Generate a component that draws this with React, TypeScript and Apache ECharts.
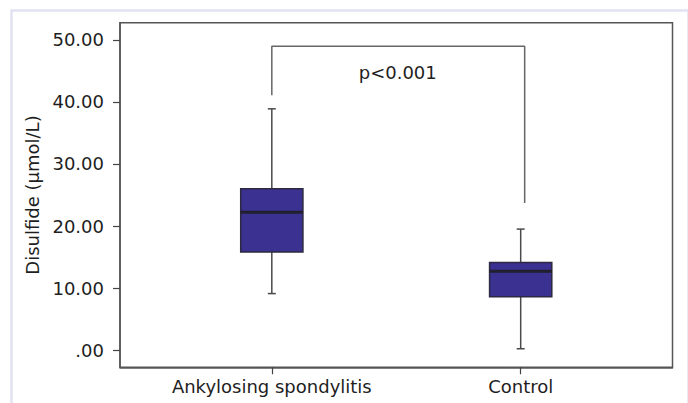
import React, { useEffect, useRef } from "react";
import * as echarts from "echarts";

// Groups and their x positions on the value axis
const categories = ["Ankylosing spondylitis", "Control"];
const groupPositions = [1, 2];
// Box statistics: [min, Q1, median, Q3, max] (µmol/L)
const boxStats = [
  [9.1, 15.8, 22.2, 26.0, 38.9],
  [0.2, 8.6, 12.7, 14.1, 19.5],
];
// Y tick values
const yTicks = [0, 10, 20, 30, 40, 50];
// Significance bracket (x, y data points)
const bracketPoints = [
  [1, 41.1],
  [1, 49.0],
  [2.016, 49.0],
  [2.016, 23.7],
];
const pLabel = "p<0.001";
const pLabelPos = [1.506, 44.8];

const FONT = "DejaVu Sans";

export default function App() {
  const ref = useRef<HTMLDivElement>(null);
  useEffect(() => {
    if (!ref.current) return;
    const chart = echarts.init(ref.current, null, { renderer: "svg" });
    const boxData = boxStats.map((s, i) => [groupPositions[i], ...s]);
    chart.setOption({
      animation: false,
      backgroundColor: "#ffffff",
      graphic: [
        {
          type: "rect",
          left: 9,
          top: 8,
          shape: { width: 677, height: 420 },
          style: { fill: "none", stroke: "#e2e2f2", lineWidth: 2.5 },
          silent: true,
          z: -1,
        },
      ],
      grid: {
        left: 120,
        right: 15.5,
        top: 22.7,
        bottom: 35.7,
        show: true,
        borderColor: "#555555",
        borderWidth: 1.5,
        backgroundColor: "transparent",
      },
      xAxis: {
        type: "value",
        min: 0.39,
        max: 2.61,
        splitLine: { show: false },
        axisLine: { show: true, onZero: false, lineStyle: { color: "#555555", width: 1.5 } },
        axisTick: {
          show: true,
          customValues: groupPositions,
          length: 7,
          lineStyle: { color: "#444444", width: 1.2 },
        },
        axisLabel: {
          customValues: groupPositions,
          formatter: (v: number) => categories[groupPositions.indexOf(v)] ?? "",
          fontFamily: FONT,
          fontSize: 18,
          color: "#1e1e1e",
          margin: 10,
        },
      },
      yAxis: {
        type: "value",
        min: -2.79,
        max: 52.79,
        name: "Disulfide (µmol/L)",
        nameLocation: "middle",
        nameGap: 78,
        nameTextStyle: { fontFamily: FONT, fontSize: 18, color: "#1e1e1e" },
        splitLine: { show: false },
        axisLine: { show: true, onZero: false, lineStyle: { color: "#555555", width: 1.5 } },
        axisTick: {
          show: true,
          customValues: yTicks,
          length: 7,
          lineStyle: { color: "#444444", width: 1.2 },
        },
        axisLabel: {
          customValues: yTicks,
          formatter: (v: number) => (v === 0 ? ".00" : v.toFixed(2)),
          fontFamily: FONT,
          fontSize: 18,
          color: "#1e1e1e",
          margin: 16,
        },
      },
      series: [
        {
          type: "line",
          data: bracketPoints,
          symbol: "none",
          lineStyle: { color: "#666666", width: 1.5 },
          z: 1,
        },
        {
          type: "custom",
          data: boxData,
          encode: { x: 0, y: [1, 2, 3, 4, 5] },
          z: 2,
          renderItem: (params: any, api: any) => {
            const x = api.value(0);
            const pMin = api.coord([x, api.value(1)]);
            const pQ1 = api.coord([x, api.value(2)]);
            const pMed = api.coord([x, api.value(3)]);
            const pQ3 = api.coord([x, api.value(4)]);
            const pMax = api.coord([x, api.value(5)]);
            const half = api.size([0.25, 0])[0] / 2;
            const cap = 4;
            const wStyle = { stroke: "#4a4a4a", lineWidth: 1.5 };
            return {
              type: "group",
              children: [
                { type: "line", shape: { x1: pMax[0], y1: pMax[1], x2: pQ3[0], y2: pQ3[1] }, style: wStyle },
                { type: "line", shape: { x1: pMin[0], y1: pMin[1], x2: pQ1[0], y2: pQ1[1] }, style: wStyle },
                { type: "line", shape: { x1: pMax[0] - cap, y1: pMax[1], x2: pMax[0] + cap, y2: pMax[1] }, style: wStyle },
                { type: "line", shape: { x1: pMin[0] - cap, y1: pMin[1], x2: pMin[0] + cap, y2: pMin[1] }, style: wStyle },
                {
                  type: "rect",
                  shape: { x: pQ3[0] - half, y: pQ3[1], width: half * 2, height: pQ1[1] - pQ3[1] },
                  style: { fill: "#3a3190", stroke: "#2c2940", lineWidth: 1.5 },
                },
                {
                  type: "line",
                  shape: { x1: pMed[0] - half, y1: pMed[1], x2: pMed[0] + half, y2: pMed[1] },
                  style: { stroke: "#221f2e", lineWidth: 3 },
                },
              ],
            };
          },
        },
        {
          type: "custom",
          data: [pLabelPos],
          encode: { x: 0, y: 1 },
          z: 3,
          renderItem: (params: any, api: any) => {
            const p = api.coord([api.value(0), api.value(1)]);
            return {
              type: "text",
              x: p[0],
              y: p[1],
              style: {
                text: pLabel,
                fontFamily: FONT,
                fontSize: 18,
                fill: "#1e1e1e",
                align: "center",
                verticalAlign: "middle",
              },
            };
          },
        },
      ],
    });
    return () => chart.dispose();
  }, []);
  return (
    <div
      ref={ref}
      style={{ position: "fixed", left: 0, top: 0, width: 688, height: 403 }}
    />
  );
}
